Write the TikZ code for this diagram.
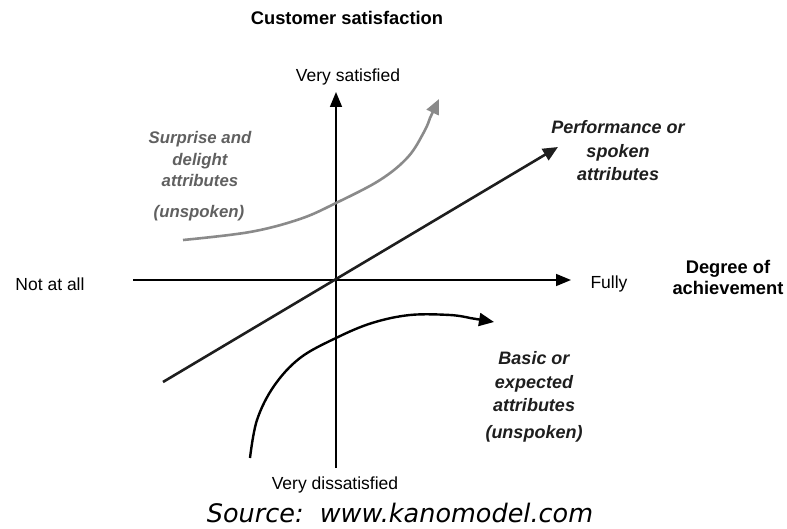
\documentclass[tikz,border=0pt]{standalone}
\usepackage{fontspec}
\setmainfont{Liberation Sans}
\newfontfamily\srcfont{DejaVu Sans}
\usetikzlibrary{arrows.meta}
\definecolor{lightgr}{HTML}{8A8A8A}
\definecolor{textgr}{HTML}{606060}
\definecolor{dark}{HTML}{1E1E1E}
\tikzset{
  lbl/.style={font=\fontsize{17.5}{20}\selectfont, inner sep=0pt},
  boldlbl/.style={font=\fontsize{18.3}{21}\selectfont\bfseries, inner sep=0pt, align=center},
  attr/.style={font=\fontsize{18}{23.5}\selectfont\bfseries\itshape, inner sep=0pt, align=center},
  sattr/.style={font=\fontsize{16.8}{21.5}\selectfont\bfseries\itshape, inner sep=0pt, align=center, text=textgr},
  axis/.style={line width=1.6pt, -{Triangle[length=15pt,width=12pt]}},
  tip/.style={-{Triangle[length=15pt,width=13pt]}}
}
\begin{document}
\begin{tikzpicture}[x=1pt,y=-1pt]
\useasboundingbox (0,0) rectangle (787,529);
% axes
\coordinate (xl) at (133,280);
\coordinate (xr) at (571,280);
\coordinate (yb) at (336,468);
\coordinate (yt) at (336,92);
\draw[axis] (xl) -- (xr);
\draw[axis] (yb) -- (yt);
% performance line
\coordinate (ps) at (163,382);
\coordinate (pe) at (558,147);
\draw[line width=2.6pt, draw=dark, tip] (ps) -- (pe);
% surprise curve
\coordinate (ss) at (183,240);
\coordinate (se) at (439,99);
\draw[line width=2.6pt, draw=lightgr, tip] plot[smooth, tension=0.6] coordinates {(ss) (250,232) (300,219) (336,203) (380,180) (408,157) (424,132) (430,118)} -- (se);
% basic curve
\coordinate (bs) at (250,458);
\coordinate (be) at (494,322);
\draw[line width=2.4pt, tip] plot[smooth, tension=0.6] coordinates {(bs) (257,420) (274,386) (300,358) (336,338) (372,323) (410,315) (450,315) (470,318)} -- (be);
% labels
\node[boldlbl] (cs) at (347,18) {Customer satisfaction};
\node[lbl] (vs) at (348,77) {Very satisfied};
\node[lbl] (vd) at (335,485) {Very dissatisfied};
\node[lbl] (na) at (50,284) {Not at all};
\node[lbl] (fu) at (609,284) {Fully};
\node[boldlbl] (da) at (728,277) {Degree of\\achievement};
\node[sattr] (sd) at (200,159) {Surprise and\\delight\\attributes};
\node[sattr] (su) at (199,213) {(unspoken)};
\node[attr, text=dark] (pf) at (618,151) {Performance or\\spoken\\attributes};
\node[attr, text=dark] (bx) at (534,382) {Basic or\\expected\\attributes};
\node[attr, text=dark] (bu) at (534,434) {(unspoken)};
\node[font=\srcfont\fontsize{25.5}{28}\selectfont\itshape, inner sep=0pt] (src) at (400,513) {Source:\ \ www.kanomodel.com};
\end{tikzpicture}
\end{document}
